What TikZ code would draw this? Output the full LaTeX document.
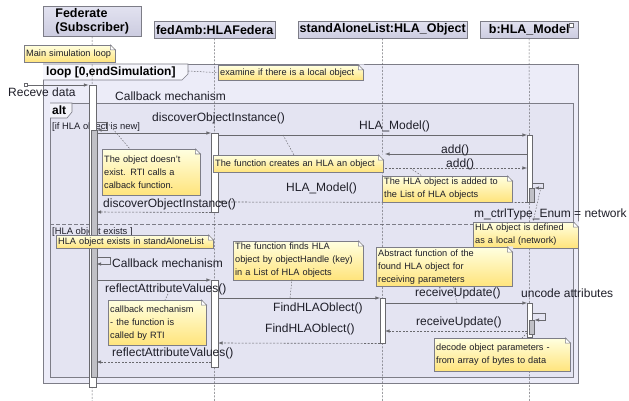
\documentclass[tikz,border=0pt]{standalone}
\usepackage{fontspec}
\setmainfont{Liberation Sans}
\usepackage{tikz}
\usetikzlibrary{arrows}
\definecolor{sq_loop}{RGB}{236, 236, 248}
\definecolor{sq_alt}{RGB}{228, 228, 242}
\definecolor{sq_head}{RGB}{204, 204, 224}
\definecolor{sq_headtop}{RGB}{226, 226, 240}
\definecolor{sq_notetop}{RGB}{255, 255, 224}
\definecolor{sq_notebot}{RGB}{255, 228, 124}
\definecolor{sq_line}{RGB}{105, 105, 110}
\definecolor{sq_frame}{RGB}{125, 125, 135}
\definecolor{sq_grey}{RGB}{192, 192, 198}
\definecolor{sq_text}{RGB}{30, 30, 40}
\tikzstyle{head}=[rectangle,draw=sq_frame,top color=sq_headtop,bottom color=sq_head,
  font=\fontsize{12.5}{14}\selectfont\bfseries,inner sep=1pt,anchor=north west,
  minimum height=17pt]
\tikzstyle{bar}=[rectangle,draw=sq_line,fill=white,inner sep=0pt,anchor=north west,
  line width=0.5pt]
\tikzstyle{subbar}=[style=bar,fill=sq_grey]
\tikzstyle{note}=[rectangle,draw=sq_frame,top color=sq_notetop,bottom color=sq_notebot,
  font=\fontsize{9.2}{13}\selectfont,align=left,inner sep=2pt,anchor=north west,
  text=sq_text]
\tikzstyle{lbl}=[font=\fontsize{12}{14}\selectfont,anchor=west,inner sep=0pt,text=sq_text]
\tikzstyle{guard}=[font=\fontsize{9.4}{11}\selectfont,anchor=west,inner sep=0pt,text=sq_text]
\tikzstyle{tag}=[font=\fontsize{12}{14}\selectfont\bfseries,anchor=west,inner sep=0pt]
\tikzstyle{msg}=[draw=sq_line,line width=0.6pt,-latex]
\tikzstyle{ret}=[style=msg,dash pattern=on 2pt off 1.5pt]
\tikzstyle{lifeline}=[draw=sq_line,line width=0.5pt,dash pattern=on 2pt off 1.5pt]
\tikzstyle{link}=[draw=sq_line,line width=0.5pt,dash pattern=on 1.5pt off 1.5pt]
\tikzstyle{frame}=[draw=sq_frame,line width=0.6pt]
\tikzstyle{none}=[inner sep=0pt]

\begin{document}
\begin{tikzpicture}[x=1pt, y=-1pt]
            \useasboundingbox (0, 0) rectangle (629, 401);
            % frames
            \draw [style=frame, fill=sq_loop] (43, 64) rectangle (578, 383);
            \draw [style=frame, fill=white!55!sq_loop] (43, 64) -- (188, 64) -- (188, 74) -- (182, 80) -- (43, 80);
            \draw [style=frame, fill=sq_alt] (50, 103) rectangle (573, 377);
            \draw [style=frame, fill=white!55!sq_alt] (50, 103) -- (72, 103) -- (72, 112) -- (67, 118) -- (50, 118);
            \draw [style=frame, dash pattern=on 4pt off 2pt] (50, 224) -- (573, 224);
            \node [style=tag] (109) at (46, 72) {loop [0,endSimulation]};
            \node [style=tag] (110) at (52, 110) {alt};
            \node [style=guard] (107) at (52, 127) {[if HLA object is new]};
            \node [style=guard] (108) at (52, 232) {[HLA object exists ]};

            % lifelines
            \node [style=head, minimum width=98pt, minimum height=30pt, align=left] (0) at (43, 6) {Federate\\(Subscriber)};
            \node [style=head, minimum width=121pt] (1) at (154, 21) {fedAmb:HLAFedera};
            \node [style=head, minimum width=169pt] (2) at (298, 21) {standAloneList:HLA\_Object};
            \node [style=head, minimum width=98pt] (3) at (480, 21) {b:HLA\_Model};
            \node [draw=sq_line, fill=white, minimum size=4pt, inner sep=0pt] (8) at (571, 25) {};
            \node [style=none] (4) at (92, 401) {};
            \node [style=none] (5) at (214.5, 401) {};
            \node [style=none] (6) at (382.5, 401) {};
            \node [style=none] (7) at (529.5, 401) {};
            \draw [style=lifeline] (0) to (4.center);
            \draw [style=lifeline] (1) to (5.center);
            \draw [style=lifeline] (2) to (6.center);
            \draw [style=lifeline] (3) to (7.center);

            % activations
            \node [style=bar, minimum width=7pt, minimum height=302pt] (10) at (88.5, 85) {};
            \node [style=subbar, minimum width=6pt, minimum height=247pt] (11) at (90.5, 130) {};
            \node [style=bar, minimum width=7pt, minimum height=79pt] (12) at (211, 133) {};
            \node [style=bar, minimum width=7pt, minimum height=87pt] (13) at (211, 280) {};
            \node [style=bar, minimum width=5pt, minimum height=45pt] (14) at (380, 298) {};
            \node [style=bar, minimum width=5pt, minimum height=67pt] (15) at (527, 135) {};
            \node [style=subbar, minimum width=5pt, minimum height=14pt] (16) at (529, 188) {};
            \node [style=bar, minimum width=5pt, minimum height=34pt] (17) at (527, 303) {};
            \node [style=subbar, minimum width=5pt, minimum height=14pt] (18) at (529, 320) {};

            % message ends
            \node [draw=sq_line, fill=white, minimum size=3pt, inner sep=0pt] (50) at (26, 85) {};
            \node [style=none] (51) at (96.5, 122) {};
            \node [style=none] (52) at (107, 122) {};
            \node [style=none] (53) at (107, 130) {};
            \node [style=none] (54) at (96.5, 133) {};
            \node [style=none] (55) at (218, 135) {};
            \node [style=none] (56) at (527, 154) {};
            \node [style=none] (57) at (385, 154) {};
            \node [style=none] (58) at (385, 168) {};
            \node [style=none] (59) at (527, 168) {};
            \node [style=none] (60) at (532, 183) {};
            \node [style=none] (61) at (543, 183) {};
            \node [style=none] (62) at (543, 188) {};
            \node [style=none] (63) at (218, 202) {};
            \node [style=none] (64) at (96.5, 212) {};
            \node [style=none] (65) at (96.5, 257) {};
            \node [style=none] (66) at (110, 257) {};
            \node [style=none] (67) at (110, 264) {};
            \node [style=none] (68) at (96.5, 264) {};
            \node [style=none] (69) at (96.5, 280) {};
            \node [style=none] (70) at (218, 298) {};
            \node [style=none] (71) at (385, 303) {};
            \node [style=none] (72) at (532, 313) {};
            \node [style=none] (73) at (545, 313) {};
            \node [style=none] (74) at (545, 320) {};
            \node [style=none] (75) at (527, 331) {};
            \node [style=none] (76) at (385, 331) {};
            \node [style=none] (77) at (218, 343) {};
            \node [style=none] (78) at (211, 362) {};
            \node [style=none] (79) at (96.5, 362) {};
            \draw [style=msg] (50.east) to (10.north west);
            \draw [style=msg] (51.center) -- (52.center) -- (53.center) -- (11.north east);
            \draw [style=msg] (54.center) to (12.north west);
            \draw [style=msg] (55.center) to (15.north west);
            \draw [style=msg] (56.center) to (57.center);
            \draw [style=ret] (58.center) to (59.center);
            \draw [style=msg] (60.center) -- (61.center) -- (62.center) -- (16.north east);
            \draw [style=ret] (15.south west) to (63.center);
            \draw [style=ret] (12.south west) to (64.center);
            \draw [style=msg] (65.center) -- (66.center) -- (67.center) -- (68.center);
            \draw [style=msg] (69.center) to (13.north west);
            \draw [style=msg] (70.center) to (14.north west);
            \draw [style=msg] (71.center) to (17.north west);
            \draw [style=msg] (72.center) -- (73.center) -- (74.center) -- (18.north east);
            \draw [style=ret] (75.center) to (76.center);
            \draw [style=ret] (14.south west) to (77.center);
            \draw [style=ret] (78.center) to (79.center);

            % notes
            \node [style=note, text width=87pt, minimum height=17pt] (30) at (24, 45) {Main simulation loop};
            \node [style=note, text width=141pt, minimum height=15pt] (31) at (218, 65) {examine if there is a local object};
            \node [style=note, text width=94pt, minimum height=46pt] (32) at (102, 149) {The object doesn't\\exist. RTI calls a\\calback function.};
            \node [style=note, text width=166pt, minimum height=17pt] (33) at (213, 155) {The function creates an HLA an object};
            \node [style=note, text width=126pt, minimum height=25pt] (34) at (382, 176) {The HLA object is added to\\the List of HLA objects};
            \node [style=note, text width=101pt, minimum height=25pt] (35) at (473, 222) {HLA object is defined\\as a local (network)};
            \node [style=note, text width=153pt, minimum height=13pt] (36) at (56, 235) {HLA object exists in standAloneList};
            \node [style=note, text width=126pt, minimum height=38pt] (37) at (233, 241) {The function finds HLA\\object by objectHandle (key)\\in a List of HLA objects};
            \node [style=note, text width=132pt, minimum height=39pt] (38) at (376, 247) {Abstract function of the\\found HLA object for\\receiving parameters};
            \node [style=note, text width=94pt, minimum height=45pt] (39) at (108, 300) {callback mechanism\\- the function is\\called by RTI};
            \node [style=note, text width=132pt, minimum height=33pt] (40) at (434, 338) {decode object parameters -\\from array of bytes to data};
            \foreach \n/\col in {30/white, 31/sq_loop, 32/sq_alt, 33/sq_alt, 34/sq_alt, 35/sq_loop, 36/sq_alt, 37/sq_alt, 38/sq_alt, 39/sq_alt, 40/sq_alt}
            {
                \fill [\col] ([shift={(-5pt,0.6pt)}]\n.north east) -- ([shift={(0.6pt,0.6pt)}]\n.north east) -- ([shift={(0.6pt,-5pt)}]\n.north east) -- cycle;
                \draw [draw=sq_frame, fill=white, line width=0.5pt] ([xshift=-5pt]\n.north east) -- ([yshift=-5pt]\n.north east) -- ([shift={(-5pt,-5pt)}]\n.north east) -- cycle;
            }

            % note links
            \node [style=none] (80) at (188, 71) {};
            \node [style=none] (81) at (130, 149) {};
            \node [style=none] (82) at (283, 135) {};
            \node [style=none] (83) at (294, 155) {};
            \node [style=none] (84) at (410, 168) {};
            \node [style=none] (85) at (422, 176) {};
            \node [style=none] (86) at (541, 187) {};
            \node [style=none] (87) at (533, 222) {};
            \node [style=none] (88) at (290, 298) {};
            \node [style=none] (89) at (292, 279) {};
            \node [style=none] (111) at (168, 294) {};
            \node [style=none] (112) at (165, 300) {};
            \node [style=none] (113) at (457, 303) {};
            \node [style=none] (114) at (453, 286) {};
            \node [style=none] (115) at (527, 333) {};
            \node [style=none] (116) at (522, 338) {};
            \draw [style=link] (80.center) to (31.west);
            \draw [style=link] (52.center) to (81.center);
            \draw [style=link] (82.center) to (83.center);
            \draw [style=link] (84.center) to (85.center);
            \draw [style=link] (86.center) to (87.center);
            \draw [style=link] (88.center) to (89.center);
            \draw [style=link] (111.center) to (112.center);
            \draw [style=link] (113.center) to (114.center);
            \draw [style=link] (115.center) to (116.center);

            % message labels
            \node [style=lbl] (90) at (8, 92) {Receve data};
            \node [style=lbl] (91) at (115, 96) {Callback mechanism};
            \node [style=lbl] (92) at (152, 118) {discoverObjectInstance()};
            \node [style=lbl] (93) at (359, 126) {HLA\_Model()};
            \node [style=lbl] (94) at (441, 150) {add()};
            \node [style=lbl] (95) at (446, 164) {add()};
            \node [style=lbl] (96) at (286, 188) {HLA\_Model()};
            \node [style=lbl] (97) at (103, 204) {discoverObjectInstance()};
            \node [style=lbl] (98) at (474, 214) {m\_ctrlType\_Enum = network};
            \node [style=lbl] (99) at (112, 263) {Callback mechanism};
            \node [style=lbl] (100) at (105, 289) {reflectAttributeValues()};
            \node [style=lbl] (101) at (273, 308) {FindHLAOblect()};
            \node [style=lbl] (102) at (265, 329) {FindHLAOblect()};
            \node [style=lbl] (103) at (112, 353) {reflectAttributeValues()};
            \node [style=lbl] (104) at (415, 293) {receiveUpdate()};
            \node [style=lbl] (105) at (521, 293) {uncode attributes};
            \node [style=lbl] (106) at (416, 322) {receiveUpdate()};
\end{tikzpicture}
\end{document}
